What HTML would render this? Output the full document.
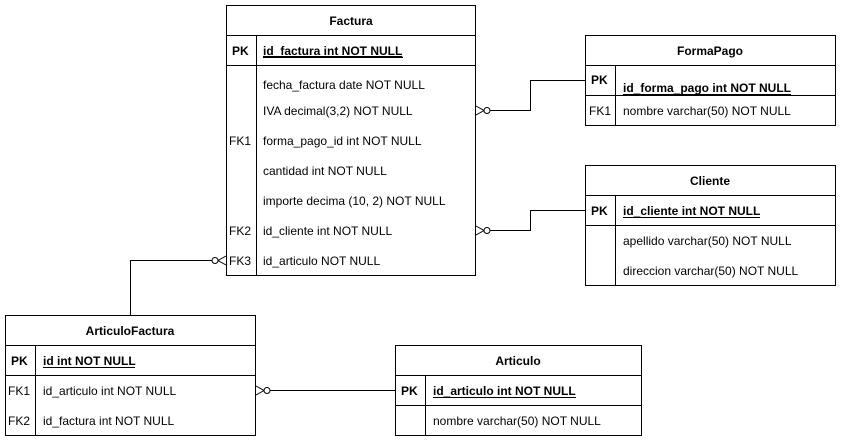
<!DOCTYPE html>
<html><head><style>
html,body{margin:0;padding:0;background:#fff;}
svg{display:block;font-family:"Liberation Sans",Arial,sans-serif;font-size:12px;}
.b{font-weight:bold;}
</style></head><body>
<svg width="841" height="441" viewBox="0 0 841 441" xmlns="http://www.w3.org/2000/svg">
<g fill="none" stroke="#000" stroke-width="1">
<!-- Factura -->
<rect x="226.5" y="5.5" width="249" height="270"/>
<line x1="226" y1="35.5" x2="476" y2="35.5"/>
<line x1="226" y1="65.5" x2="476" y2="65.5"/>
<line x1="256.5" y1="35" x2="256.5" y2="275"/>
<!-- FormaPago -->
<rect x="585.5" y="35.5" width="250" height="90"/>
<line x1="585" y1="65.5" x2="836" y2="65.5"/>
<line x1="585" y1="95.5" x2="836" y2="95.5"/>
<line x1="615.5" y1="65" x2="615.5" y2="125"/>
<!-- Cliente -->
<rect x="585.5" y="165.5" width="250" height="120"/>
<line x1="585" y1="195.5" x2="836" y2="195.5"/>
<line x1="585" y1="225.5" x2="836" y2="225.5"/>
<line x1="615.5" y1="195" x2="615.5" y2="285"/>
<!-- ArticuloFactura -->
<rect x="5.5" y="315.5" width="250" height="120"/>
<line x1="5" y1="345.5" x2="256" y2="345.5"/>
<line x1="5" y1="375.5" x2="256" y2="375.5"/>
<line x1="35.5" y1="345" x2="35.5" y2="435"/>
<!-- Articulo -->
<rect x="395.5" y="345.5" width="246" height="90"/>
<line x1="395" y1="375.5" x2="642" y2="375.5"/>
<line x1="395" y1="405.5" x2="642" y2="405.5"/>
<line x1="425.5" y1="375" x2="425.5" y2="435"/>
<!-- connectors -->
<polyline points="490,110.5 530.5,110.5 530.5,80.5 585,80.5"/>
<path d="M476,106 L484,110.5 L476,115"/><circle cx="487" cy="110.5" r="3" fill="#fff"/>
<polyline points="490,230.5 530.5,230.5 530.5,210.5 585,210.5"/>
<path d="M476,226 L484,230.5 L476,235"/><circle cx="487" cy="230.5" r="3" fill="#fff"/>
<polyline points="212,260.5 130.5,260.5 130.5,315"/>
<path d="M226,256 L218,260.5 L226,265"/><circle cx="215" cy="260.5" r="3" fill="#fff"/>
<polyline points="270,390.5 395,390.5"/>
<path d="M256,386 L264,390.5 L256,395"/><circle cx="267" cy="390.5" r="3" fill="#fff"/>
</g>
<g fill="#000">
<text x="351" y="25" text-anchor="middle" class="b">Factura</text>
<text x="232" y="55" class="b">PK</text>
<text x="263" y="55" class="b" text-decoration="underline">id_factura int NOT NULL</text>
<line x1="263" y1="57.5" x2="403" y2="57.5" stroke="#000"/>
<text x="263" y="89">fecha_factura date NOT NULL</text>
<text x="263" y="115">IVA decimal(3,2) NOT NULL</text>
<text x="229" y="145">FK1</text><text x="263" y="145">forma_pago_id int NOT NULL</text>
<text x="263" y="175">cantidad int NOT NULL</text>
<text x="263" y="205">importe decima (10, 2) NOT NULL</text>
<text x="229" y="235">FK2</text><text x="263" y="235">id_cliente int NOT NULL</text>
<text x="229" y="265">FK3</text><text x="263" y="265">id_articulo NOT NULL</text>

<text x="710" y="55" text-anchor="middle" class="b">FormaPago</text>
<text x="591" y="84" class="b">PK</text>
<text x="623" y="92" class="b">id_forma_pago int NOT NULL</text>
<line x1="623" y1="94.5" x2="791" y2="94.5" stroke="#000"/>
<text x="589" y="115">FK1</text><text x="623" y="115">nombre varchar(50) NOT NULL</text>

<text x="710" y="185" text-anchor="middle" class="b">Cliente</text>
<text x="591" y="215" class="b">PK</text>
<text x="623" y="215" class="b">id_cliente int NOT NULL</text>
<line x1="623" y1="217.5" x2="760" y2="217.5" stroke="#000"/>
<text x="623" y="245">apellido varchar(50) NOT NULL</text>
<text x="623" y="275">direccion varchar(50) NOT NULL</text>

<text x="130" y="335" text-anchor="middle" class="b">ArticuloFactura</text>
<text x="11" y="365" class="b">PK</text>
<text x="43" y="365" class="b">id int NOT NULL</text>
<line x1="43" y1="367.5" x2="135" y2="367.5" stroke="#000"/>
<text x="8" y="395">FK1</text><text x="43" y="395">id_articulo int NOT NULL</text>
<text x="8" y="425">FK2</text><text x="43" y="425">id_factura int NOT NULL</text>

<text x="518" y="365" text-anchor="middle" class="b">Articulo</text>
<text x="401" y="395" class="b">PK</text>
<text x="433" y="395" class="b">id_articulo int NOT NULL</text>
<line x1="433" y1="397.5" x2="576" y2="397.5" stroke="#000"/>
<text x="433" y="425">nombre varchar(50) NOT NULL</text>
</g>
</svg>
</body></html>
